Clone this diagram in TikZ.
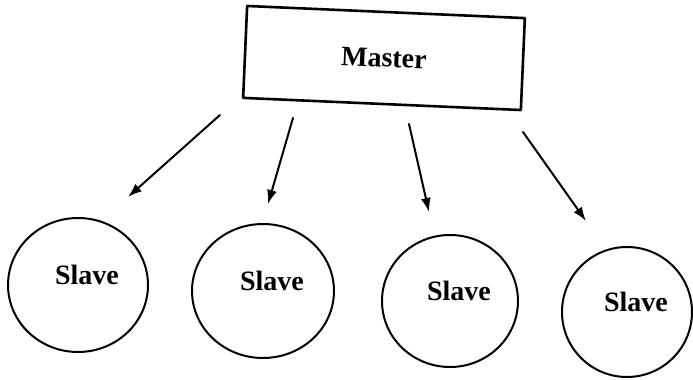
\documentclass[tikz,border=0pt]{standalone}
\usepackage{fontspec}
\setmainfont{Liberation Serif}
\usetikzlibrary{arrows.meta,shapes.geometric}

\begin{document}
\begin{tikzpicture}[x=0.5pt,y=-0.5pt,>=Latex,line cap=round,line join=round,
  master/.style={draw,line width=1.3pt,minimum width=139pt,minimum height=46pt,inner sep=0pt,
    font=\bfseries\fontsize{14}{16}\selectfont},
  slave/.style={ellipse,draw,line width=1pt,inner sep=0pt,label={[slavetext]center:Slave}},
  slavetext/.style={xshift=4.5pt,yshift=5pt,font=\bfseries\fontsize{14}{16}\selectfont},
  link/.style={->,line width=1pt,>={Latex[length=7pt,width=5pt]}}]
  \useasboundingbox (0,0) rectangle (693,380);

  \node[master,rotate=-2.5] (master) at (384,58) {Master};

  \node[slave,minimum width=70pt,minimum height=67pt] (s1) at (78,285) {};
  \node[slave,minimum width=71pt,minimum height=67pt] (s2) at (263,291) {};
  \node[slave,minimum width=68pt,minimum height=66pt] (s3) at (450,301) {};
  \node[slave,minimum width=65pt,minimum height=65pt] (s4) at (627,312) {};

  % arrow ends, kept clear of the shapes
  \coordinate (a1) at (220,115);
  \coordinate (b1) at (128,197);
  \coordinate (a2) at (293,118);
  \coordinate (b2) at (268,204);
  \coordinate (a3) at (409,124);
  \coordinate (b3) at (429,212);
  \coordinate (a4) at (523,132);
  \coordinate (b4) at (586,221);

  \draw[link] (a1) -- (b1);
  \draw[link] (a2) -- (b2);
  \draw[link] (a3) -- (b3);
  \draw[link] (a4) -- (b4);
\end{tikzpicture}
\end{document}
